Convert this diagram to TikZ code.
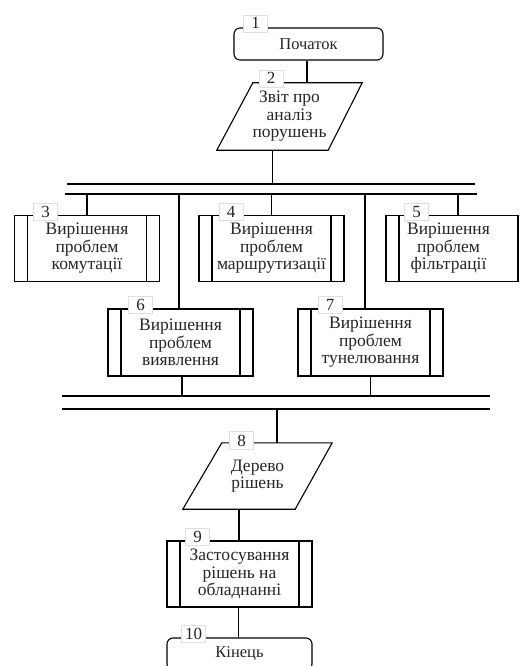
\documentclass[tikz,border=0pt]{standalone}
\usepackage{fontspec}
\setmainfont{Liberation Serif}
\usetikzlibrary{calc}
\begin{document}
\begin{tikzpicture}[x=1pt,y=-1pt]
\tikzset{
 txt/.style={font=\fontsize{17.5}{17.5}\selectfont, align=center, inner sep=0pt, text=black!85},
 proc/.style={txt, draw, line width=1.1pt, minimum width=145pt, minimum height=66pt,
   path picture={
     \draw[line width=1.1pt] ([xshift=13pt]path picture bounding box.north west) -- ([xshift=13pt]path picture bounding box.south west);
     \draw[line width=1.1pt] ([xshift=-13pt]path picture bounding box.north east) -- ([xshift=-13pt]path picture bounding box.south east);}},
 term/.style={txt, font=\fontsize{16.5}{17.5}\selectfont, draw, rounded corners=6pt, line width=1.1pt, minimum height=32pt},
 io/.style={txt, minimum height=67pt},
 num/.style={font=\fontsize{17}{17}\selectfont, text=black!85, fill=white, draw=gray!25, line width=0.4pt, inner sep=3pt, minimum width=24pt, anchor=base},
 ln/.style={line width=1.1pt},
}
\clip (0,0) rectangle (519,666);
\fill[white] (0,0) rectangle (519,666);

% nodes
\node[term, minimum width=149pt] (n1) at (308.5,44) {Початок};
\node[io, minimum width=145pt] (n2) at (289.5,116.5) {Звіт про\\аналіз\\порушень};
\draw[ln] ([xshift=36pt]n2.north west) -- (n2.north east) -- ([xshift=-34pt]n2.south east) -- (n2.south west) -- cycle;

\node[proc] (n3) at (87,248.5) {Вирішення\\проблем\\комутації};
\node[proc] (n4) at (271.5,248.5) {Вирішення\\проблем\\маршрутизації};
\node[proc, label={[txt,xshift=-10pt]center:{Вирішення\\проблем\\фільтрації}}] (n5) at (458.5,248.5) {};
\node[proc, minimum height=67pt] (n6) at (180.5,342.5) {Вирішення\\проблем\\виявлення};
\node[proc, minimum height=67pt] (n7) at (370.5,342.5) {Вирішення\\проблем\\тунелювання};

\node[io, minimum width=149pt, minimum height=66pt] (n8) at (257.5,476) {Дерево\\рішень};
\draw[ln] ([xshift=39pt]n8.north west) -- (n8.north east) -- ([xshift=-37pt]n8.south east) -- (n8.south west) -- cycle;

\node[proc] (n9) at (239.5,574) {Застосування\\рішень на\\обладнанні};
\node[term, minimum width=145pt] (n10) at (239.5,654) {Кінець};

% buses
\coordinate (a1) at (67,184);  \coordinate (a2) at (475,184);
\coordinate (b1) at (65,194);  \coordinate (b2) at (477,194);
\coordinate (c1) at (62,396);  \coordinate (c2) at (490,396);
\coordinate (d1) at (62,409);  \coordinate (d2) at (490,409);
\draw[ln] (a1) -- (a2);
\draw[ln] (b1) -- (b2);
\draw[ln] (c1) -- (c2);
\draw[ln] (d1) -- (d2);

% connectors
\draw[ln] ([xshift=-1.5pt]n1.south) -- ([xshift=-1.5pt]n1.south |- n2.north);
\coordinate (n2b) at ($(n2.south west)!0.5!([xshift=-34pt]n2.south east)$);
\draw[ln] (n2b) -- (n2b |- a1);
\draw[ln] (n3.north) -- (n3.north |- b1);
\draw[ln] (n4.north) -- (n4.north |- b1);
\draw[ln] ([xshift=-0.5pt]n5.north) -- ([xshift=-0.5pt]n5.north |- b1);
\draw[ln] ([xshift=-1.5pt]n6.north) -- ([xshift=-1.5pt]n6.north |- b1);
\draw[ln] ([xshift=-5.5pt]n7.north) -- ([xshift=-5.5pt]n7.north |- b1);
\draw[ln] ([xshift=1.5pt]n6.south) -- ([xshift=1.5pt]n6.south |- c1);
\draw[ln] (n7.south) -- (n7.south |- c1);
\coordinate (n8t) at ($([xshift=39pt]n8.north west)!0.5!(n8.north east)$);
\coordinate (n8b) at ($(n8.south west)!0.5!([xshift=-37pt]n8.south east)$);
\draw[ln] (n8t |- d1) -- (n8t);
\draw[ln] (n8b) -- (n8b |- n9.north);
\draw[ln] ([xshift=-1pt]n9.south) -- ([xshift=-1pt]n9.south |- n10.north);

% number labels
\node[num] (l1) at (255.5,29) {1};
\node[num] (l2) at (271,84) {2};
\node[num] (l3) at (45.5,217) {3};
\node[num] (l4) at (231,217) {4};
\node[num] (l5) at (416.5,217) {5};
\node[num] (l6) at (140.5,310) {6};
\node[num] (l7) at (330,310) {7};
\node[num] (l8) at (241.5,446) {8};
\node[num] (l9) at (197.5,542) {9};
\node[num] (l10) at (193.5,639) {10};
\end{tikzpicture}
\end{document}
